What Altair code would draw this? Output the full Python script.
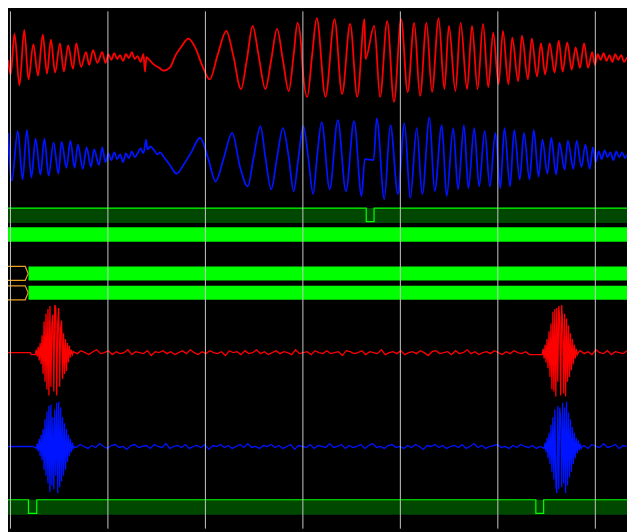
import altair as alt
import pandas as pd

# ---------------- capture window (sample index) and time grid ----------------
T_START, T_END = 0, 635
GRID_T = [2.5, 102.5, 202.5, 302.5, 402.5, 502.5, 602.5]

# ---------------- analog channel 1 (red, upper) : readings (time, level) ----------------
CH1_T = [0, 2.7, 6.7, 11.7, 16.7, 21, 26, 30.7, 35.7, 40, 44, 48.3, 53.3, 57.3, 61.7, 66.7, 70, 75,
         80, 83.3, 87.3, 91.7, 96.7, 100, 103, 106, 109, 112, 115, 118, 121, 124, 127, 130, 133, 136,
         139, 140.5, 142, 145, 150, 155, 160, 166, 172, 178, 185, 192, 199, 207, 215, 224, 231, 239,
         245, 251, 257, 264, 270, 276, 282, 288, 293, 297, 301, 302, 307, 312, 316.7, 325.7, 335,
         342.7, 351, 358.3, 365.7, 366.7, 375.7, 381.7, 389, 396, 403.3, 410, 416.7, 422.7, 429.3,
         435, 441.7, 447.7, 452.3, 459, 464.3, 471, 476, 481.7, 487.3, 492.7, 497.7, 503.3, 507.7,
         513.3, 517.3, 523.3, 527.3, 533.3, 537.3, 542.7, 546.7, 551, 555.7, 560.7, 565, 569, 573.7,
         578.3, 582.3, 586.7, 591, 595, 599.3, 602, 605, 608, 611, 614, 617, 620, 623, 626, 629, 632, 635]
CH1_V = [-3, -18, 24, -29, 28, -23, 13, -19, 23, -17, 18, -16, 14, -15, 12, -12, 14, -10,
         5, -8, 7, -6, 5, -6, 3, -3, 4, -2, 2, -4, 3, -1, 5, -2, 1, -5,
         3, -15, 0, -3, -8, -11, -14, -11, 2, 11, 19, 10, -8, -23, 2, 27, 2, -33,
         -3, 32, 2, -33, -3, 29, -3, -35, 2, 35, 9, -8, -41, 2, 40, -41, 39,
         -38, 34, -41, 39, -2, 32, -41, 37, -46, 39, -36, 35, -40, 35,
         -36, 40, -33, 32, -35, 35, -33, 32, -33, 34, -31, 25, -28, 27,
         -28, 20, -25, 22, -23, 19, -20, 14, -18, 14, -16, 17, -15, 15,
         -13, 10, -11, 14, -11, 5, -8, 3, -3, 4, -4, 2, -5, 3, -3, 2, -5, 0]

# ---------------- analog channel 2 (blue, upper) ----------------
CH2_T = [0, 4, 10, 15, 19.3, 24, 28.3, 33.3, 37.3, 41.7, 46.7, 51.7, 55, 60, 64, 68.3, 71.7, 76.7,
         80.7, 85, 88.3, 93.3, 96.7, 100, 103, 106, 109, 112, 115, 118, 121, 124, 127, 130, 133, 136,
         139, 141.7, 143, 146, 150, 153, 156, 160, 166, 173, 180, 188, 197, 205, 213, 221, 230, 238,
         246, 252, 259, 264, 270, 276, 282, 288, 293, 298, 303, 308, 313, 317, 321.7, 330, 338.3,
         346.7, 355, 362.7, 366, 375, 378.3, 386, 392.3, 400, 406.7, 412.7, 419.3, 425, 432.3, 437.7,
         445, 450, 456.7, 461.7, 467.7, 472.3, 478.3, 483.3, 489, 494.3, 500, 505, 509.3, 515, 519.3,
         525, 529.3, 535, 539.3, 544.3, 548.3, 553.3, 557.3, 562.3, 565.7, 571, 574.3, 580, 583.3,
         588.3, 592.3, 596.7, 600, 603, 606, 609, 612, 615, 618, 621, 624, 627, 630, 633, 635]
CH2_V = [25, -24, 27, -23, 28, -21, 19, -18, 19, -19, 15, -17, 16, -11, 17, -11, 13, -12,
         10, -10, 8, -8, 10, -5, 4, -3, 5, -2, 3, -5, 4, -1, 6, 0, 4, 9,
         4, 18, 8, 11, 7, 3, 5, 0, -8, -17, -8, 5, 20, 0, -25, -2, 25, -10,
         -30, 0, 32, 0, -33, 0, 30, 0, -35, 0, 32, 0, -38, 0, 36, -33, 38,
         -35, 37, -40, -2, -3, 40, -43, 33, -38, 35, -42, 30, -38, 41, -35,
         33, -40, 30, -33, 33, -32, 30, -30, 27, -30, 25, -32, 30, -30, 28,
         -23, 25, -23, 28, -20, 18, -17, 20, -18, 15, -13, 17, -12, 17,
         -10, 13, -12, 10, -5, 6, -2, 7, 0, 5, -3, 6, 0, 5, -1, 3]

# ---------------- analog channel 3 (red, lower) : bursts + baseline noise ----------------
CH3_LEAD_T = [0, 23, 24, 27]
CH3_LEAD_V = [0, 0, -2, -2]
CH3_BURST1_T0 = 28
CH3_BURST1 = [-2, 3, -4, 6, -8, 10, -12, 18, -22, 32, -30, 40, -38, 45, -44, 48, -35, 30, 39, -40,
              49, 46, -44, 30, 46, -35, 25, 33, -27, 20, -22, 14, -19, 10, -10, 7, -5, 3, -2]
CH3_NOISE_T0, CH3_NOISE_DT = 67, 4
CH3_NOISE = [1, -1, 2, 0, -2, 1, 3, -1, 0, 2, -2, 1, -1, 0, 3, -2, 1, 0, -1, 2,
             -3, 1, 0, 2, -1, 1, -2, 0, 2, -1, 3, 0, -2, 1, -1, 2, 0, -1, 1, -3,
             2, 0, 1, -2, 2, -1, 0, 3, -1, 1, -2, 0, 2, -1, 1, 0, -2, 3, -1, 0,
             1, -2, 2, 0, -1, 2, -1, 0, 1, -3, 2, 1, -1, 0, 2, -2, 1, 0, -1, 3,
             -2, 0, 1, -1, 2, -2, 0, 1, -1, 2, 0, -3, 1, 2, -1, 0, 1, -2, 2, -1,
             0, 3, -1, 1, -2, 0, 1, -1, 2, 0, -2, 1, -1, 2, 0, -1, 1, -2, -2, -2]
CH3_BURST2_T0 = 547
CH3_BURST2 = [-2, -2, 4, -6, 8, -10, 14, -16, 22, -25, 30, -38, 42, -40, 45, -45, 46, -30, 48, 35,
              -44, 49, 30, -42, 40, -45, 35, -30, 28, -25, 20, -18, 14, -12, 8, -6, 4, -2, 0]
CH3_TAIL_T0 = 587
CH3_TAIL = [2, -1, 1, -2, 3, 0, -1, 2, -2, 1, 0, -1, 2]

# ---------------- analog channel 4 (blue, lower) ----------------
CH4_LEAD_T = [0, 25, 28]
CH4_LEAD_V = [0, 0, -1]
CH4_BURST1_T0 = 29
CH4_BURST1 = [-2, 3, -5, 8, -10, 12, -14, 18, -24, 28, -30, 36, -38, 42, -47, 43, -40, 30, -44, 38,
              -30, 45, -48, 46, -42, 40, -36, 30, -30, 24, -24, 18, -16, 12, -10, 8, -6, 4, -2, 0]
CH4_NOISE_T0, CH4_NOISE_DT = 70, 4
CH4_NOISE = [-1, 2, 0, -2, 1, -1, 3, 0, -2, 1, 2, -1, 0, -3, 1, 2, -1, 0, 1, -2,
             2, 0, -1, 3, -2, 0, 1, -1, 2, -2, 0, 1, -1, 2, -3, 1, 0, 2, -1, 1,
             -2, 0, 2, -1, 3, -1, 0, -2, 1, 0, 2, -1, 1, -2, 0, 2, -3, 1, 0, -1,
             2, -2, 1, 0, -1, 3, -1, 0, 2, -2, 1, -1, 0, 2, -2, 1, 3, -1, 0, -2,
             1, 2, -1, 0, -2, 1, -1, 2, 0, -3, 1, 0, 2, -1, 1, -2, 0, 1, -1, 2,
             -2, 0, 3, -1, 1, -2, 0, 1, 2, -1, 0, -2, 1, -1, 2, 0, -1, 1, -2, 0]
CH4_BURST2_T0 = 550
CH4_BURST2 = [-2, 4, -6, 9, -12, 14, -18, 22, -26, 30, -34, 38, -40, -48, 42, -44, 40, 30, -42, 45,
              -38, 40, -48, 46, -40, 35, -32, 28, -26, 20, -18, 14, -12, 9, -7, 6, -4, 3, -2, 0]
CH4_TAIL_T0 = 591
CH4_TAIL = [1, -2, 2, 0, -1, 3, -1, 0, 2, -2, 1, 0]

# ---------------- digital channels ----------------
D1_T = [0, 367.5, 375.5, 635]
D1_L = [1, 0, 1, 1]
D3_T = [0, 21, 29.5, 541.5, 549.5, 635]
D3_L = [1, 0, 1, 0, 1, 1]
BUS_ROWS = ["bus0", "bus1", "bus2"]
BUS_CHANGE_T = [None, 19.7, 19.7]

# ---------------- layout (canvas rows) and styles ----------------
CANVAS_H = 532
CENTER = {"ch1": 47, "ch2": 150, "ch3": 351, "ch4": 447.5}
DIG_LANE = {"d1": (202.3, 216.3, 217.7), "d3": (502.3, 516.3, 517.7)}
BUS_LANE = {"bus0": (222, 237), "bus1": (262.3, 276.7), "bus2": (282.3, 296.7)}
RED, BLUE = "#ff0000", "#0014ff"
GREEN, DARK_GREEN, ORANGE, GRID = "#00ff00", "#004800", "#e8a020", "#c8c8c8"

XS = alt.Scale(domain=[T_START, T_END], nice=False, zero=False)
YS = alt.Scale(domain=[0, CANVAS_H], nice=False, zero=False, reverse=True)
X = alt.X("t:Q", scale=XS, axis=None)
Y = alt.Y("y:Q", scale=YS, axis=None)


def seq(t0, dt, vals):
    return [(t0 + i * dt, v) for i, v in enumerate(vals)]


def analog(points, center, color, width, interp):
    df = pd.DataFrame(points, columns=["t", "v"])
    df["y"] = center - df["v"]
    df["i"] = range(len(df))
    return alt.Chart(df).mark_line(color=color, strokeWidth=width, interpolate=interp,
                                   clip=True).encode(x=X, y=Y, order="i:Q")


layers = []

# digital lanes: dark band + level line
for key, ts, ls in (("d1", D1_T, D1_L), ("d3", D3_T, D3_L)):
    hi, lo, bottom = DIG_LANE[key]
    band = pd.DataFrame({"t": [T_START], "t2": [T_END], "y": [hi], "y2": [bottom]})
    layers.append(alt.Chart(band).mark_rect(color=DARK_GREEN).encode(x=X, x2="t2:Q", y=Y, y2="y2:Q"))
    lv = pd.DataFrame({"t": ts, "y": [hi if l else lo for l in ls]})
    layers.append(alt.Chart(lv).mark_line(color=GREEN, strokeWidth=1.2, interpolate="step-after")
                  .encode(x=X, y=Y))

# bus lanes
rects, outline = [], []
for name, ch in zip(BUS_ROWS, BUS_CHANGE_T):
    top, bot = BUS_LANE[name]
    start = T_START if ch is None else ch + 1.3
    rects.append({"t": start, "t2": T_END, "y": top, "y2": bot})
    if ch is not None:
        mid = (top + bot) / 2
        pts = [(T_START, top), (ch - 2, top), (ch + 1, mid), (ch - 2, bot), (T_START, bot)]
        for i, (t, y) in enumerate(pts):
            outline.append({"row": name, "i": i, "t": t, "y": y})
layers.append(alt.Chart(pd.DataFrame(rects)).mark_rect(color=GREEN)
              .encode(x=X, x2="t2:Q", y=Y, y2="y2:Q"))
layers.append(alt.Chart(pd.DataFrame(outline)).mark_line(color=ORANGE, strokeWidth=1.2)
              .encode(x=X, y=Y, detail="row:N", order="i:Q"))

# analog traces
layers.append(analog(list(zip(CH1_T, CH1_V)), CENTER["ch1"], RED, 1.8, "monotone"))
layers.append(analog(list(zip(CH2_T, CH2_V)), CENTER["ch2"], BLUE, 1.8, "monotone"))
ch3 = (list(zip(CH3_LEAD_T, CH3_LEAD_V)) + seq(CH3_BURST1_T0, 1, CH3_BURST1)
       + seq(CH3_NOISE_T0, CH3_NOISE_DT, CH3_NOISE) + seq(CH3_BURST2_T0, 1, CH3_BURST2)
       + seq(CH3_TAIL_T0, CH3_NOISE_DT, CH3_TAIL))
ch4 = (list(zip(CH4_LEAD_T, CH4_LEAD_V)) + seq(CH4_BURST1_T0, 1, CH4_BURST1)
       + seq(CH4_NOISE_T0, CH4_NOISE_DT, CH4_NOISE) + seq(CH4_BURST2_T0, 1, CH4_BURST2)
       + seq(CH4_TAIL_T0, CH4_NOISE_DT, CH4_TAIL))
layers.append(analog(ch3, CENTER["ch3"], RED, 1.3, "linear"))
layers.append(analog(ch4, CENTER["ch4"], BLUE, 1.3, "linear"))

# time grid on top
layers.append(alt.Chart(pd.DataFrame({"t": GRID_T})).mark_rule(color=GRID, strokeWidth=1)
              .encode(x=X))

chart = (alt.layer(*layers)
         .properties(width=627, height=524, padding=0,
                     autosize=alt.AutoSizeParams(type="none"), background="#000000")
         .configure_view(strokeWidth=0, fill="#000000"))

chart.save("out.html", embed_options={"renderer": "svg", "actions": False})
